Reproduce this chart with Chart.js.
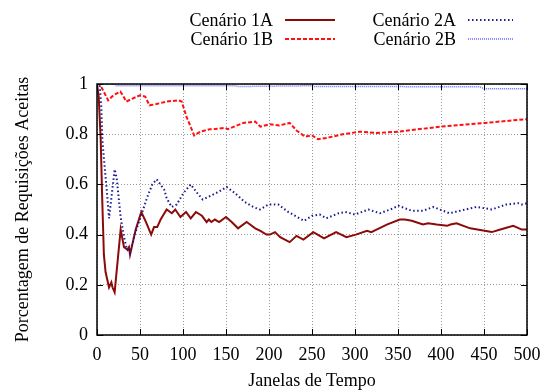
<!DOCTYPE html>
<html>
<head>
<meta charset="utf-8">
<script src="https://cdn.jsdelivr.net/npm/chart.js@4"></script>
<style>
html, body { margin: 0; padding: 0; background: #fff; }
</style>
</head>
<body>
<canvas id="myChart" width="544" height="392"></canvas>
<script>
// ticks
const xTicks = [0, 50, 100, 150, 200, 250, 300, 350, 400, 450, 500];
const yTicks = [0, 0.2, 0.4, 0.6, 0.8, 1];

const seriesNames = ['Cenário 1A', 'Cenário 1B', 'Cenário 2A', 'Cenário 2B'];

// Cenário 1A
const x1A = [0, 2, 4.3, 6, 8, 10, 14, 16.7, 18, 20.5, 27.5, 31.4, 35.3, 37.2, 38.4, 45, 51.5, 57, 63, 66.3, 70, 74, 81, 87, 91, 97, 103.5, 109, 115, 122, 127.5, 130, 133, 137, 142, 150, 156.6, 164, 174, 178, 184, 190, 197, 201, 207, 213, 224, 232, 240, 251.5, 264, 278, 290, 301, 314, 319, 325, 337, 352, 358, 366, 379, 385, 395, 407, 411, 418, 434, 459, 469, 484, 494, 500];
const y1A = [1.0, 0.95, 0.78, 0.55, 0.32, 0.25, 0.19, 0.21, 0.19, 0.17, 0.42, 0.35, 0.34, 0.35, 0.32, 0.42, 0.49, 0.45, 0.40, 0.43, 0.43, 0.46, 0.50, 0.485, 0.50, 0.47, 0.49, 0.465, 0.49, 0.475, 0.45, 0.46, 0.45, 0.46, 0.45, 0.47, 0.45, 0.425, 0.45, 0.44, 0.425, 0.415, 0.40, 0.40, 0.41, 0.39, 0.37, 0.395, 0.38, 0.41, 0.385, 0.41, 0.39, 0.40, 0.415, 0.41, 0.42, 0.44, 0.46, 0.46, 0.455, 0.44, 0.445, 0.44, 0.435, 0.44, 0.445, 0.425, 0.41, 0.42, 0.435, 0.42, 0.42];

// Cenário 1B
const x1B = [0, 3, 7, 13, 19, 27, 30, 34, 40, 50, 56, 61, 69, 81, 94.5, 98.5, 104, 113, 120, 131, 135, 149, 152, 170, 184, 190, 201, 212, 224, 232, 242, 250, 257, 267, 286, 306, 325, 350, 399, 451, 500];
const y1B = [1.0, 1.0, 0.975, 0.935, 0.955, 0.97, 0.955, 0.93, 0.94, 0.955, 0.95, 0.915, 0.92, 0.93, 0.935, 0.93, 0.87, 0.795, 0.81, 0.82, 0.82, 0.825, 0.82, 0.845, 0.85, 0.83, 0.84, 0.835, 0.845, 0.815, 0.79, 0.795, 0.78, 0.785, 0.80, 0.81, 0.805, 0.81, 0.83, 0.845, 0.86];

// Cenário 2A
const x2A = [0, 3, 5, 6.2, 8.1, 11.3, 14, 16.7, 20.5, 22.9, 27.5, 31.4, 34.5, 38.4, 43.8, 50.8, 58.5, 64.3, 69.4, 78, 81, 86.8, 92.7, 100.4, 109, 116.7, 122.9, 129.4, 141, 150.8, 160.5, 172, 181.7, 189.5, 199.2, 210.8, 222.4, 240.7, 250.4, 259, 266.7, 281, 288.8, 300, 315.5, 329, 341, 350.4, 362, 366, 379, 391, 410, 422, 441, 451, 459, 476, 490, 494, 500];
const y2A = [1.0, 1.0, 0.91, 0.78, 0.70, 0.58, 0.465, 0.545, 0.66, 0.625, 0.47, 0.39, 0.345, 0.325, 0.40, 0.47, 0.55, 0.60, 0.62, 0.58, 0.545, 0.51, 0.52, 0.565, 0.60, 0.565, 0.54, 0.55, 0.57, 0.59, 0.565, 0.53, 0.51, 0.50, 0.52, 0.52, 0.49, 0.455, 0.475, 0.48, 0.465, 0.485, 0.49, 0.48, 0.50, 0.485, 0.50, 0.515, 0.50, 0.495, 0.495, 0.51, 0.485, 0.495, 0.51, 0.505, 0.50, 0.52, 0.525, 0.52, 0.525];

// Cenário 2B
const x2B = [0, 20, 23, 160, 165, 250, 253, 355, 360, 445, 450, 500];
const y2B = [1.0, 1.0, 0.993, 0.993, 0.99, 0.993, 0.99, 0.99, 0.989, 0.989, 0.981, 0.981];

const toPoints = (xs, ys) => xs.map((x, i) => ({ x: x, y: ys[i] }));

const serif = "'Liberation Serif', 'DejaVu Serif', serif";

const data = {
    datasets: [{
        label: seriesNames[0],
        data: toPoints(x1A, y1A),
        borderColor: '#8b0a0a',
        borderWidth: 2,
        order: 3
    }, {
        label: seriesNames[1],
        data: toPoints(x1B, y1B),
        borderColor: '#ff1010',
        borderWidth: 2,
        borderDash: [4, 2],
        order: 2
    }, {
        label: seriesNames[2],
        data: toPoints(x2A, y2A),
        borderColor: '#1a1a90',
        borderWidth: 2,
        borderDash: [1.5, 2.5],
        order: 1
    }, {
        label: seriesNames[3],
        data: toPoints(x2B, y2B),
        borderColor: '#6a6aff',
        borderWidth: 1.5,
        borderDash: [1, 1],
        order: 0
    }]
};

// gnuplot風の枠と内向きの目盛り、凡例
const framePlugin = {
    id: 'frame',
    afterDatasetsDraw(chart) {
        const { ctx, chartArea: a, scales: { x, y } } = chart;
        ctx.save();
        ctx.strokeStyle = '#000';
        ctx.lineWidth = 1;
        ctx.setLineDash([]);
        ctx.beginPath();
        xTicks.forEach(v => {
            const px = Math.round(x.getPixelForValue(v)) + 0.5;
            ctx.moveTo(px, a.bottom); ctx.lineTo(px, a.bottom - 6);
            ctx.moveTo(px, a.top); ctx.lineTo(px, a.top + 6);
        });
        yTicks.forEach(v => {
            const py = Math.round(y.getPixelForValue(v)) + 0.5;
            ctx.moveTo(a.left, py); ctx.lineTo(a.left + 6, py);
            ctx.moveTo(a.right, py); ctx.lineTo(a.right - 6, py);
        });
        ctx.stroke();
        ctx.lineWidth = 1.5;
        ctx.strokeRect(a.left, a.top, a.right - a.left, a.bottom - a.top);
        ctx.restore();
    },
    afterDraw(chart) {
        const { ctx } = chart;
        const cols = [{ tx: 273, l0: 285, l1: 335 }, { tx: 456, l0: 468, l1: 513 }];
        const rows = [20, 39];
        ctx.save();
        ctx.font = '18px ' + serif;
        ctx.fillStyle = '#000';
        ctx.textAlign = 'right';
        ctx.textBaseline = 'middle';
        chart.data.datasets.forEach((ds, i) => {
            const c = cols[Math.floor(i / 2)];
            const ry = rows[i % 2];
            ctx.fillText(ds.label, c.tx, ry + 1);
            ctx.strokeStyle = ds.borderColor;
            ctx.lineWidth = ds.borderWidth;
            ctx.setLineDash(ds.borderDash || []);
            ctx.beginPath();
            ctx.moveTo(c.l0, ry);
            ctx.lineTo(c.l1, ry);
            ctx.stroke();
        });
        ctx.restore();
    }
};

const config = {
    type: 'line',
    data: data,
    options: {
        responsive: false,
        animation: false,
        layout: { padding: { top: 84, right: 17, bottom: 0, left: 0 } },
        elements: {
            point: { radius: 0 },
            line: { tension: 0, fill: false }
        },
        plugins: {
            legend: { display: false },
            tooltip: { enabled: false }
        },
        scales: {
            x: {
                type: 'linear',
                min: 0,
                max: 500,
                afterFit: s => { s.height = 57; s.paddingLeft = 0; s.paddingRight = 0; },
                afterBuildTicks: s => { s.ticks = xTicks.map(v => ({ value: v })); },
                ticks: { font: { family: serif, size: 18 }, color: '#000', padding: 9, maxRotation: 0 },
                grid: { color: '#999', lineWidth: 1, drawTicks: false },
                border: { display: false, dash: [1, 2] },
                title: {
                    display: true,
                    text: 'Janelas de Tempo',
                    font: { family: serif, size: 18, lineHeight: 1.2 },
                    color: '#000',
                    padding: 0
                }
            },
            y: {
                min: 0,
                max: 1,
                afterFit: s => { s.width = 97; s.paddingTop = 0; s.paddingBottom = 0; },
                afterBuildTicks: s => { s.ticks = yTicks.map(v => ({ value: v })); },
                ticks: {
                    font: { family: serif, size: 18 },
                    color: '#000',
                    padding: 9,
                    callback: v => String(Number(v.toFixed(1)))
                },
                grid: { color: '#999', lineWidth: 1, drawTicks: false },
                border: { display: false, dash: [1, 2] },
                title: {
                    display: true,
                    text: 'Porcentagem de Requisições Aceitas',
                    font: { family: serif, size: 18, lineHeight: 1.2 },
                    color: '#000',
                    padding: 12
                }
            }
        }
    },
    plugins: [framePlugin]
};

const myChart = new Chart(document.getElementById('myChart'), config);
</script>
</body>
</html>
